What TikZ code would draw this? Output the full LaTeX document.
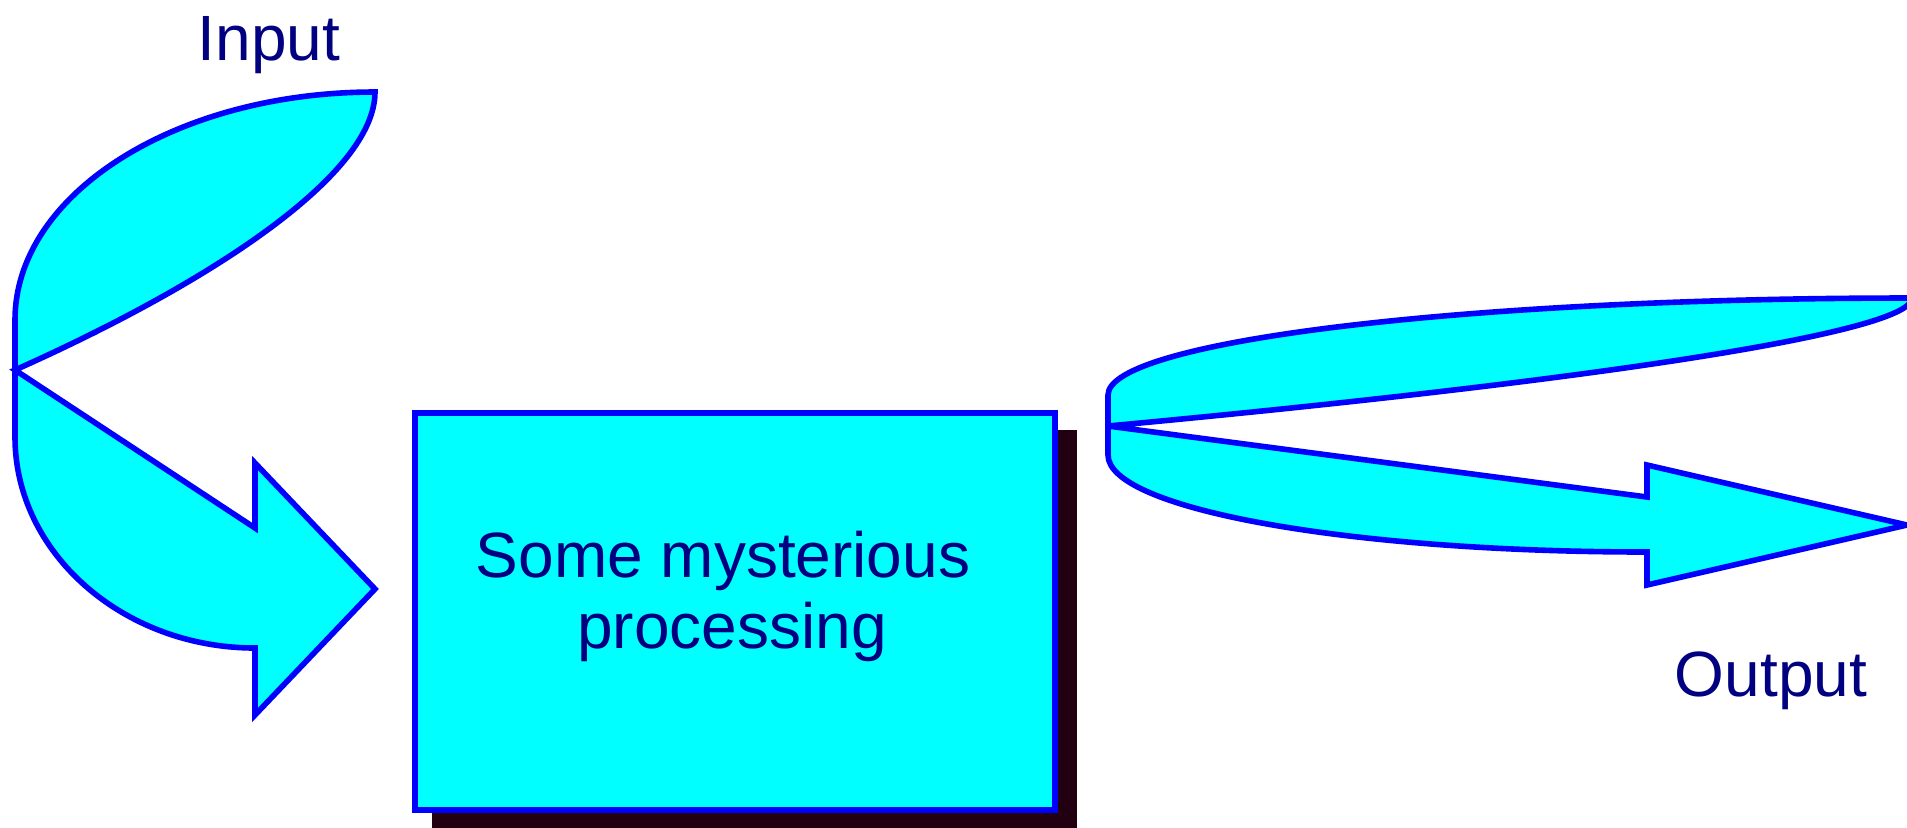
\documentclass[tikz,border=0pt]{standalone}
\usepackage{fontspec}
\setmainfont{Liberation Sans}
\definecolor{fillc}{RGB}{0,255,255}
\definecolor{linec}{RGB}{0,0,255}
\definecolor{txtc}{RGB}{0,0,128}
\definecolor{shadowc}{RGB}{34,0,17}
\begin{document}
\begin{tikzpicture}[x=0.5pt,y=-0.5pt,
  shapestyle/.style={fill=fillc,draw=linec,line width=2.8pt,line join=miter,miter limit=3},
  lbl/.style={text=txtc,font=\fontsize{32}{35.5}\selectfont,inner sep=0pt,anchor=base}]
\useasboundingbox (0,0) rectangle (1907,827);
\clip (0,0) rectangle (1907,827);
% left curved arrow (input)
\draw[shapestyle] (375,92) .. controls (176,92) and (15,194) .. (15,320)
  -- (15,437) .. controls (15,553) and (123,648) .. (255,648)
  -- (255,715) -- (375,589) -- (255,463) -- (255,528) -- (15,370)
  .. controls (210,283) and (375,175) .. (375,92) -- cycle;
% right curved arrow (output)
\draw[shapestyle] (1912,298) .. controls (1466,298) and (1108,341) .. (1108,395)
  -- (1108,455) .. controls (1108,509) and (1349,552) .. (1647,552)
  -- (1647,585) -- (1907,525) -- (1647,465) -- (1647,497) -- (1108,426)
  .. controls (1550,385) and (1912,335) .. (1912,298) -- cycle;
% box with shadow
\node[fill=shadowc,minimum width=322.8pt,minimum height=201.3pt,inner sep=0pt,anchor=north west] (shadow) at (431.2,429.2) {};
\node[fill=fillc,draw=linec,line width=2.8pt,minimum width=320pt,minimum height=198.5pt,inner sep=0pt,anchor=north west] (box) at (412,410) {};
\node[lbl] (proc1) at (723,577) {Some mysterious};
\node[lbl] (proc2) at (732,648) {processing};
\node[lbl] (input) at (269,60) {Input};
\node[lbl] (output) at (1771,696) {Output};
\end{tikzpicture}
\end{document}
